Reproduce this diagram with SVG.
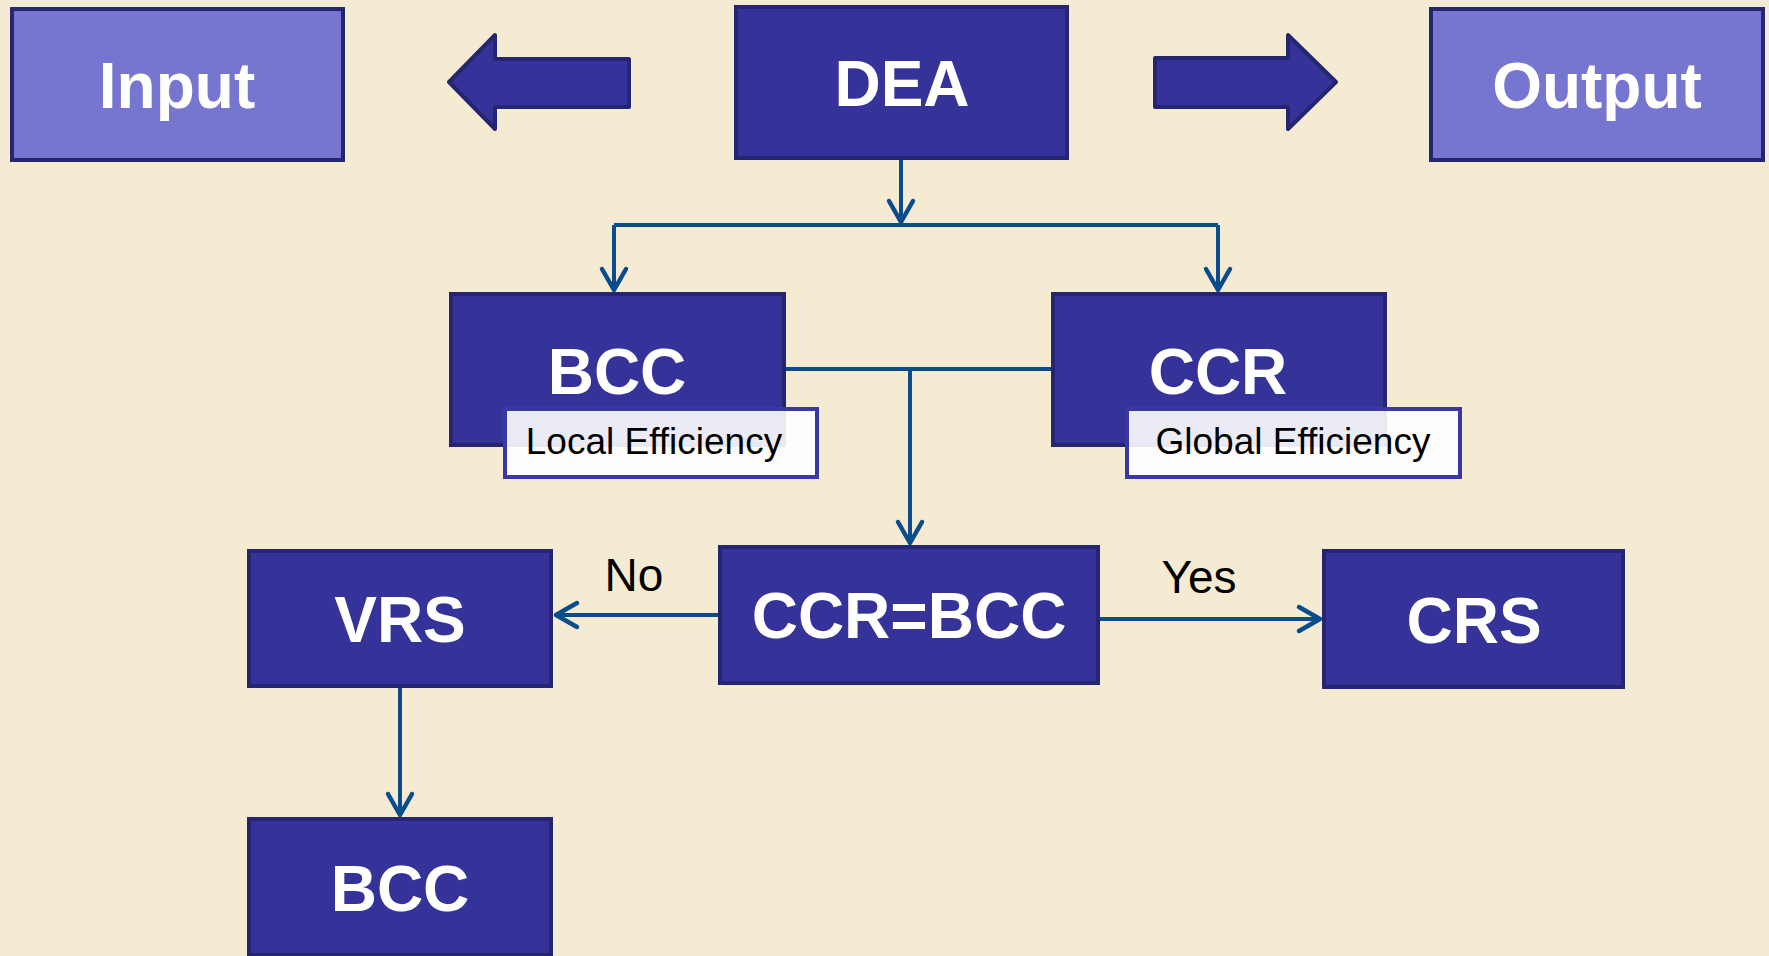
<svg xmlns="http://www.w3.org/2000/svg" width="1769" height="956" viewBox="0 0 1769 956">
<style>
.dark{fill:#35339a;stroke:#262570;stroke-width:4}
.light{fill:#7676d0;stroke:#262570;stroke-width:4}
.lbl{fill:#ffffff;fill-opacity:0.9;stroke:#3a38a2;stroke-width:4}
.big{font-family:"Liberation Sans",Arial,sans-serif;font-weight:bold;font-size:64px;fill:#ffffff;text-anchor:middle}
.small{font-family:"Liberation Sans",Arial,sans-serif;font-size:37px;fill:#000000;text-anchor:middle}
.edge{font-family:"Liberation Sans",Arial,sans-serif;font-size:46px;fill:#000000;text-anchor:middle}
.conn{fill:none;stroke:#0a4d8c;stroke-width:4}
.blk{fill:#35339a;stroke:#262570;stroke-width:4;stroke-linejoin:round}
</style>
<defs>
<marker id="ah" markerUnits="userSpaceOnUse" viewBox="-26 -16 30 32" refX="1" refY="0" markerWidth="30" markerHeight="32" orient="auto">
<path d="M-21,-12 L0,0 L-21,12" fill="none" stroke="#0a4d8c" stroke-width="4.5" stroke-linecap="round" stroke-linejoin="round"/>
</marker>
</defs>
<rect width="1769" height="956" fill="#f5ebd2"/>
<g id="connectors">
<path class="conn" d="M901,160 V223" marker-end="url(#ah)"/>
<path class="conn" d="M614,225 H1218"/>
<path class="conn" d="M614,225 V291" marker-end="url(#ah)"/>
<path class="conn" d="M1218,225 V291" marker-end="url(#ah)"/>
<path class="conn" d="M786,369 H1051"/>
<path class="conn" d="M910,369 V544" marker-end="url(#ah)"/>
<path class="conn" d="M718,615 H555" marker-end="url(#ah)"/>
<path class="conn" d="M1100,619 H1321" marker-end="url(#ah)"/>
<path class="conn" d="M400,688 V816" marker-end="url(#ah)"/>
<text class="edge" x="634" y="591">No</text>
<text class="edge" x="1199" y="593">Yes</text>
</g>
<g id="arrow-left"><polygon class="blk" points="449,82 495,35 495,59 629,59 629,107 495,107 495,129"/></g>
<g id="arrow-right"><polygon class="blk" points="1155,58 1288,58 1288,35 1336,82 1288,129 1288,107 1155,107"/></g>
<g id="input"><rect class="light" x="12" y="9" width="331" height="151"/><text class="big" x="177" y="108">Input</text></g>
<g id="dea"><rect class="dark" x="736" y="7" width="331" height="151"/><text class="big" x="902" y="106">DEA</text></g>
<g id="output"><rect class="light" x="1431" y="9" width="332" height="151"/><text class="big" x="1597" y="108">Output</text></g>
<g id="bcc"><rect class="dark" x="451" y="294" width="333" height="151"/><text class="big" x="617" y="394">BCC</text>
<rect class="lbl" x="505" y="409" width="312" height="68"/><text class="small" x="654" y="454">Local Efficiency</text></g>
<g id="ccr"><rect class="dark" x="1053" y="294" width="332" height="151"/><text class="big" x="1218" y="394">CCR</text>
<rect class="lbl" x="1127" y="409" width="333" height="68"/><text class="small" x="1293" y="454">Global Efficiency</text></g>
<g id="ccr-bcc"><rect class="dark" x="720" y="547" width="378" height="136"/><text class="big" x="909" y="638">CCR=BCC</text></g>
<g id="vrs"><rect class="dark" x="249" y="551" width="302" height="135"/><text class="big" x="400" y="642">VRS</text></g>
<g id="crs"><rect class="dark" x="1324" y="551" width="299" height="136"/><text class="big" x="1474" y="643">CRS</text></g>
<g id="bcc2"><rect class="dark" x="249" y="819" width="302" height="136"/><text class="big" x="400" y="911">BCC</text></g>
</svg>
